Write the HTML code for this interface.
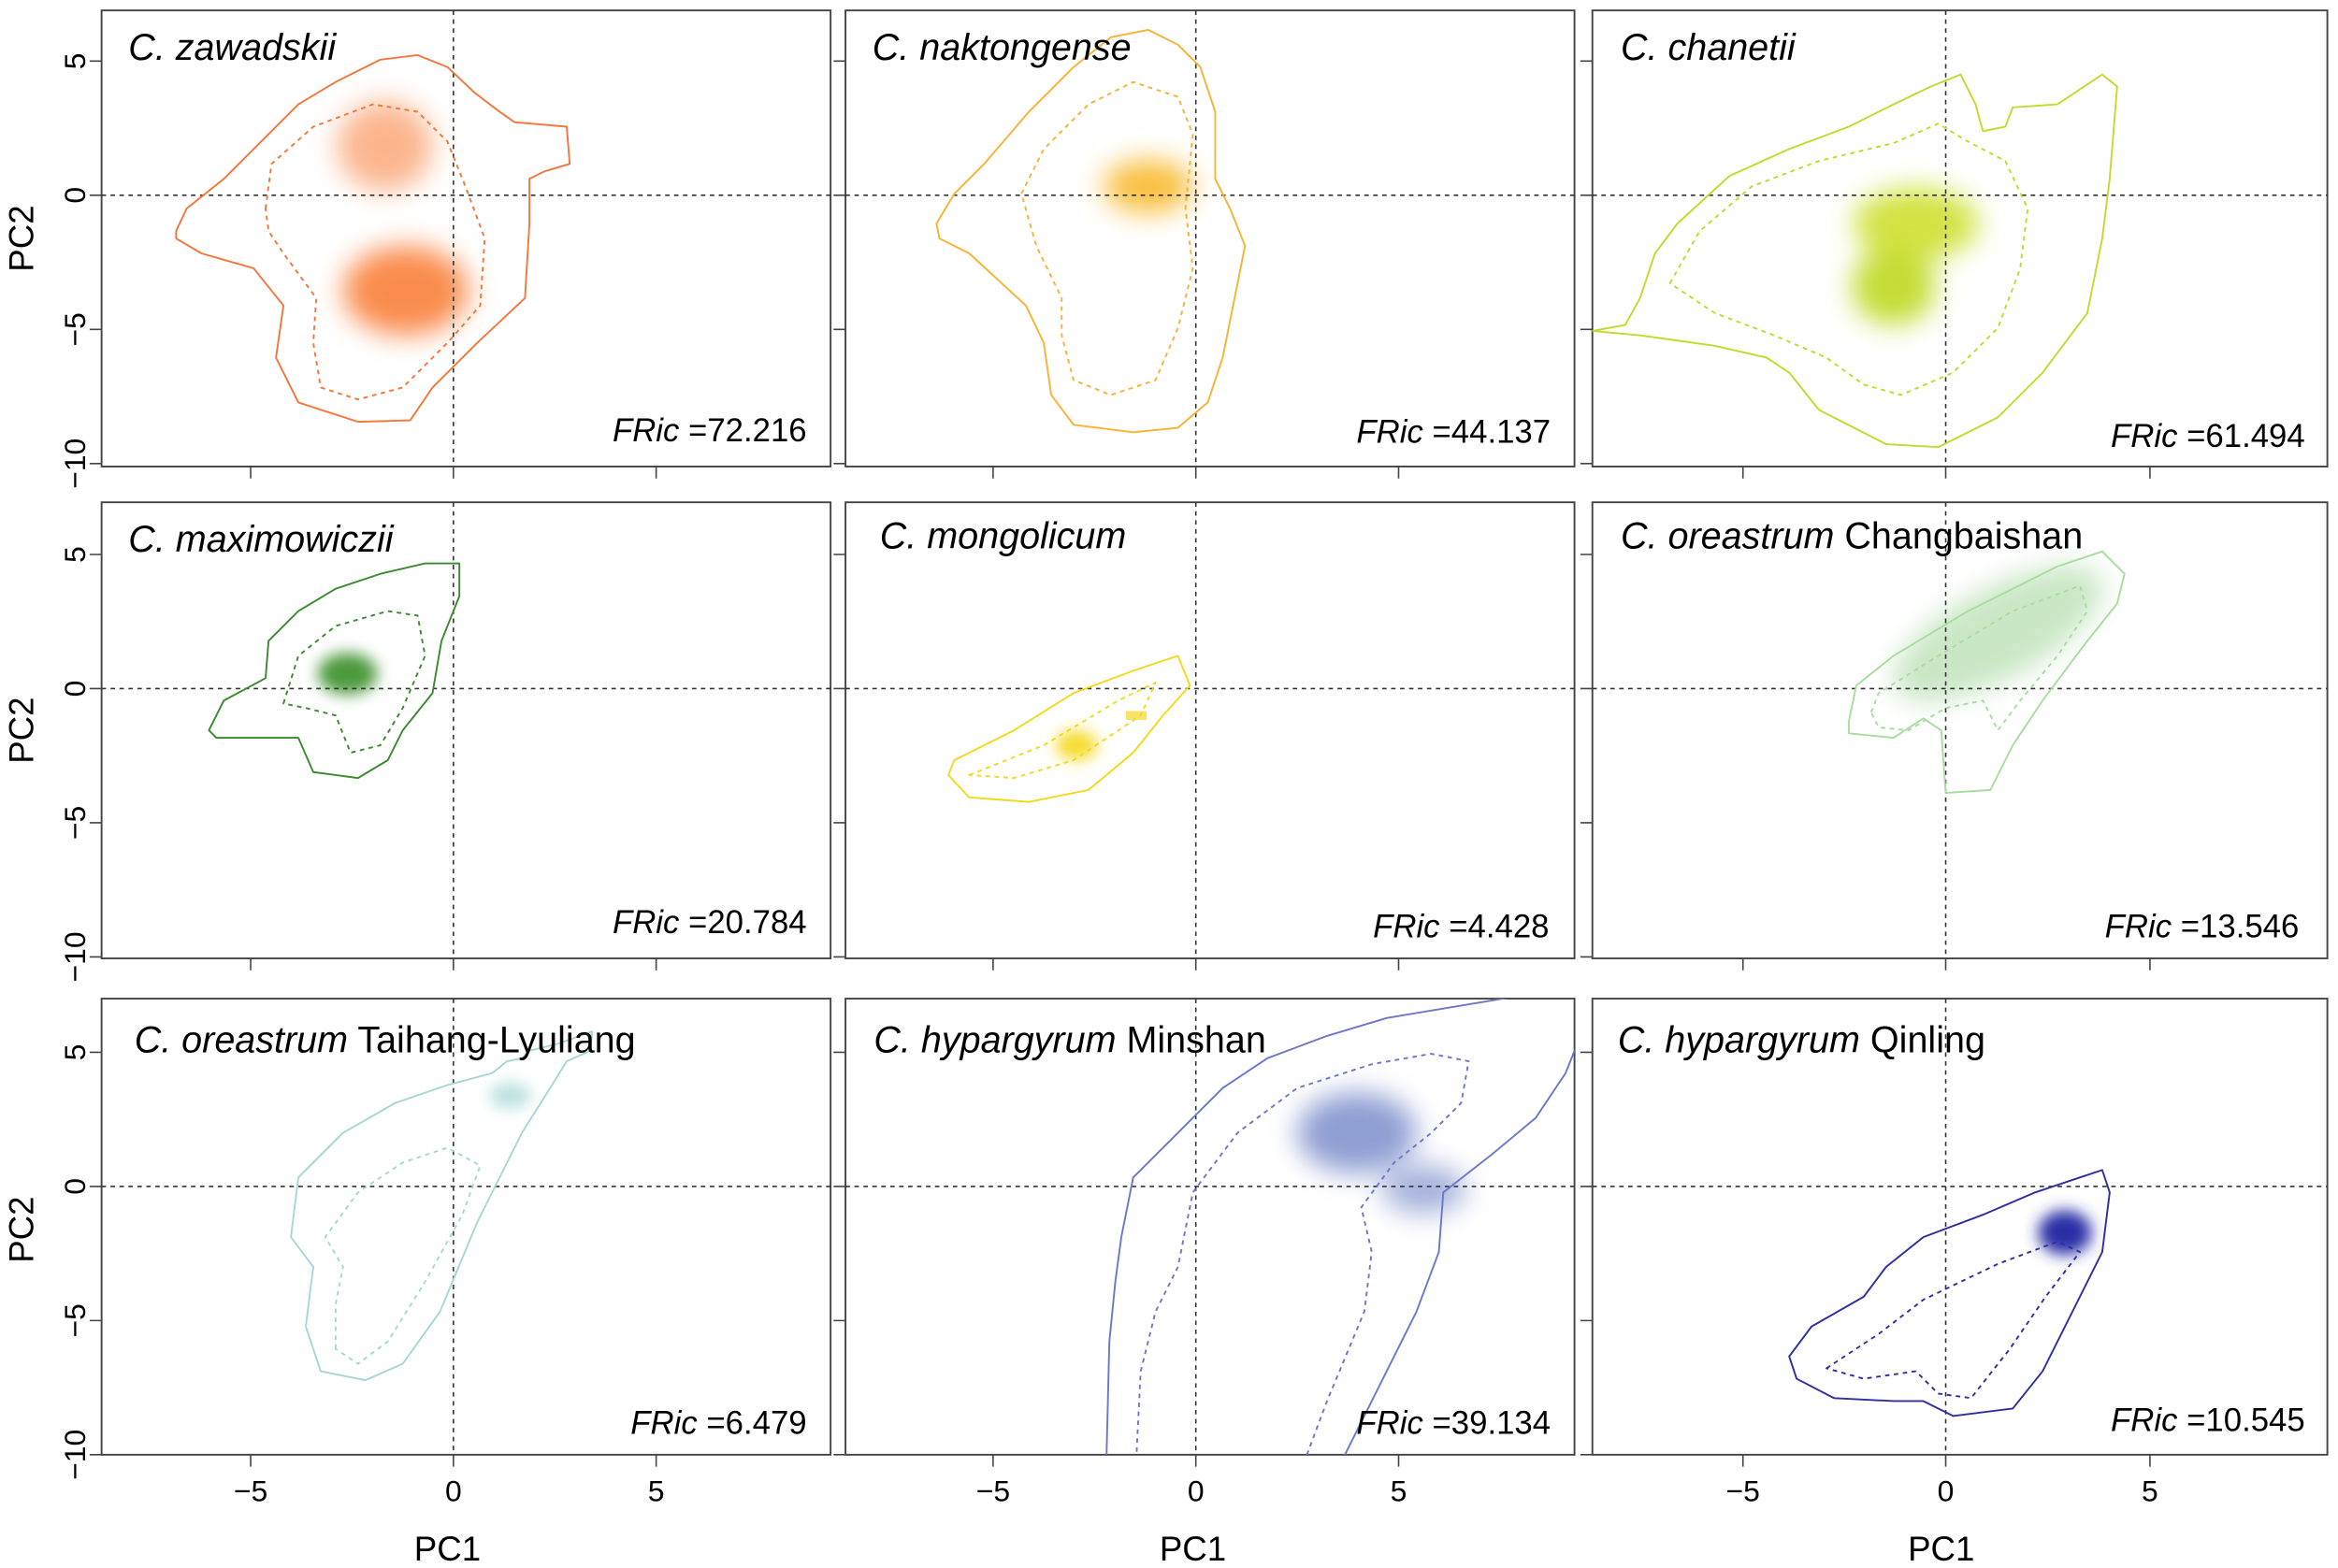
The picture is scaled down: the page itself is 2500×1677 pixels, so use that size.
<!DOCTYPE html>
<html><head><meta charset="utf-8"><style>
html,body{margin:0;padding:0;background:#fff}
svg{display:block}
text{font-family:"Liberation Sans",Arial,sans-serif;fill:#000}
</style></head><body>
<svg width="2500" height="1677" viewBox="0 0 1568 1052" xmlns="http://www.w3.org/2000/svg">
<defs>
<filter id="b" x="-50%" y="-50%" width="200%" height="200%"><feGaussianBlur stdDeviation="9"/></filter>
<filter id="bs" x="-50%" y="-50%" width="200%" height="200%"><feGaussianBlur stdDeviation="5"/></filter>
<clipPath id="c8"><rect x="567" y="670" width="489" height="306"/></clipPath>
<clipPath id="c3"><rect x="1068" y="7" width="493" height="306"/></clipPath>
</defs>
<g fill="none" stroke="#444" stroke-width="1.2">
<rect x="68" y="7" width="489" height="306"/><rect x="567" y="7" width="489" height="306"/><rect x="1068" y="7" width="493" height="306"/>
<rect x="68" y="337" width="489" height="306"/><rect x="567" y="337" width="489" height="306"/><rect x="1068" y="337" width="493" height="306"/>
<rect x="68" y="670" width="489" height="306"/><rect x="567" y="670" width="489" height="306"/><rect x="1068" y="670" width="493" height="306"/>
</g>
<g stroke="#444" stroke-width="1">
<path d="M60 41H68M60 131H68M60 221H68M60 311H68 M559 41H567M559 131H567M559 221H567M559 311H567 M1060 41H1068M1060 131H1068M1060 221H1068M1060 311H1068"/>
<path d="M60 372H68M60 462H68M60 552H68M60 642H68 M559 372H567M559 462H567M559 552H567M559 642H567 M1060 372H1068M1060 462H1068M1060 552H1068M1060 642H1068"/>
<path d="M60 706H68M60 796H68M60 886H68M60 976H68 M559 706H567M559 796H567M559 886H567M559 976H567 M1060 706H1068M1060 796H1068M1060 886H1068M1060 976H1068"/>
<path d="M168 313V321M304 313V321M440 313V321 M666 313V321M802 313V321M938 313V321 M1169 313V321M1305 313V321M1442 313V321"/>
<path d="M168 643V651M304 643V651M440 643V651 M666 643V651M802 643V651M938 643V651 M1169 643V651M1305 643V651M1442 643V651"/>
<path d="M168 976V984M304 976V984M440 976V984 M666 976V984M802 976V984M938 976V984 M1169 976V984M1305 976V984M1442 976V984"/>
</g>
<g filter="url(#b)">
<ellipse cx="258" cy="98" rx="32" ry="30" fill="#FBB58E"/>
<ellipse cx="272" cy="195" rx="42" ry="30" fill="#F98C4E"/>
<ellipse cx="770" cy="125" rx="30" ry="18" fill="#F9C040"/>
<ellipse cx="1285" cy="150" rx="42" ry="24" fill="#D2E343"/>
<ellipse cx="1270" cy="192" rx="28" ry="26" fill="#C6DC35"/>
<ellipse cx="910" cy="760" rx="40" ry="27" fill="#8F9ED3"/>
<ellipse cx="955" cy="798" rx="28" ry="16" fill="#A4B0DB"/>
<ellipse cx="1340" cy="425" rx="78" ry="30" transform="rotate(-28 1340 425)" fill="#C9E6C5"/>
</g>
<g filter="url(#bs)">
<ellipse cx="233" cy="452" rx="20" ry="14" fill="#4E9A3E"/>
<ellipse cx="722" cy="500" rx="14" ry="10" fill="#F5DC2A"/>
<ellipse cx="342" cy="735" rx="14" ry="9" fill="#BDE1E1"/>
<ellipse cx="1385" cy="827" rx="18" ry="15" fill="#2C2FA6"/>
</g>
<rect x="755" y="477" width="14" height="6" fill="#F7E36A"/>
<g stroke="#333" stroke-width="1" stroke-dasharray="3,3">
<path d="M68 131H557M567 131H1056M1068 131H1561M68 462H557M567 462H1056M1068 462H1561M68 796H557M567 796H1056M1068 796H1561"/>
<path d="M304 7V313M802 7V313M1305 7V313M304 337V643M802 337V643M1305 337V643M304 670V976M802 670V976M1305 670V976"/>
</g>
<g fill="none" stroke-width="1.2" stroke-linejoin="round">
<path stroke="#F4763A" d="M118 155L125 140L150 120L175 95L200 70L225 55L255 40L280 37L300 45L318 62L335 75L345 82L380 85L382 110L365 115L355 120L355 150L352 200L320 230L290 260L275 282L240 283L200 270L185 240L190 205L170 180L135 170L118 160Z"/>
<path stroke="#F4763A" stroke-dasharray="3,3" d="M178 140L182 110L210 85L250 70L280 75L300 95L312 125L325 160L322 205L300 230L270 260L240 268L215 260L210 230L212 200L190 170L180 155Z"/>
<path stroke="#F9B233" d="M628 150L640 130L660 110L690 75L720 45L745 25L770 20L790 30L805 45L815 75L815 120L825 140L835 165L828 200L820 240L810 270L790 287L760 290L720 285L705 265L700 230L688 205L650 170L630 160Z"/>
<path stroke="#F9B233" stroke-dasharray="3,3" d="M685 130L700 100L730 70L760 55L790 65L800 90L795 140L800 180L790 220L775 255L745 265L720 255L712 225L712 200L695 165Z"/>
<g clip-path="url(#c3)">
<path stroke="#C5D82C" d="M1068 222L1090 218L1100 200L1110 170L1125 150L1160 118L1200 100L1240 85L1270 70L1295 58L1315 50L1325 70L1330 88L1345 85L1350 72L1380 70L1410 50L1420 58L1415 120L1410 160L1400 210L1370 250L1340 280L1300 300L1265 298L1220 275L1200 250L1185 240L1150 232L1100 225Z"/>
</g>
<path stroke="#C5D82C" stroke-dasharray="3,3" d="M1120 190L1140 155L1175 125L1220 108L1270 96L1300 83L1320 95L1345 108L1360 140L1355 180L1340 220L1310 250L1275 265L1250 258L1225 240L1190 225L1150 210Z"/>
<path stroke="#3A8A2E" d="M140 490L150 470L178 455L180 430L200 410L225 395L255 385L285 378L308 378L308 400L296 430L290 465L270 490L260 510L240 522L210 518L200 495L170 495L145 495Z"/>
<path stroke="#3A8A2E" stroke-dasharray="3,3" d="M190 472L200 440L225 420L260 410L280 413L285 440L270 475L255 500L235 505L225 480L205 475Z"/>
<path stroke="#F2D91A" d="M636 520L640 510L680 490L720 465L760 450L790 440L798 460L780 480L760 505L730 530L690 538L650 535Z"/>
<path stroke="#F2D91A" stroke-dasharray="3,3" d="M650 520L700 500L750 470L775 458L765 480L720 510L680 522Z"/>
<path stroke="#A8DCA0" d="M1240 484L1245 460L1270 440L1320 410L1380 380L1410 370L1425 385L1420 405L1400 430L1370 470L1350 500L1335 530L1305 532L1302 490L1290 482L1270 495L1240 492Z"/>
<path stroke="#A8DCA0" stroke-dasharray="3,3" d="M1255 478L1260 465L1300 440L1350 410L1395 393L1400 410L1380 440L1355 470L1340 490L1330 470L1305 475L1280 490L1260 488Z"/>
<path stroke="#A6D6D6" d="M205 890L210 850L195 830L200 790L230 760L265 740L300 728L330 720L340 712L350 710L355 705L375 700L397 692L396 705L380 712L372 725L350 760L320 820L295 880L270 915L245 926L215 920Z"/>
<path stroke="#A6D6D6" stroke-dasharray="3,3" d="M225 905L225 875L230 850L218 830L240 800L270 780L300 770L322 782L310 815L285 860L260 900L240 915Z"/>
<g clip-path="url(#c8)">
<path stroke="#6B77CA" d="M742 980L744 900L748 860L752 830L760 790L790 760L820 730L850 710L890 695L930 683L990 673L1020 668"/>
<path stroke="#6B77CA" d="M1058 700L1050 720L1030 750L1000 775L968 800L965 840L950 880L930 920L910 960L900 980"/>
<path stroke="#6B77CA" stroke-dasharray="3,3" d="M762 980L765 920L775 880L790 850L800 800L830 760L870 730L920 714L960 707L985 712L980 740L960 760L935 780L913 810L920 840L915 880L890 940L875 980"/>
</g>
<path stroke="#2E2EA0" d="M1200 910L1215 890L1250 870L1265 850L1290 830L1330 815L1365 800L1395 790L1410 785L1415 800L1410 840L1390 880L1370 920L1350 945L1310 950L1290 940L1270 940L1230 938L1205 925Z"/>
<path stroke="#2E2EA0" stroke-dasharray="3,3" d="M1225 918L1260 895L1290 872L1340 848L1380 833L1395 840L1372 870L1348 905L1322 938L1300 935L1285 920L1250 925Z"/>
</g>
<g font-size="24.8">
<text x="86" y="40" font-style="italic">C. zawadskii</text>
<text x="585" y="40" font-style="italic">C. naktongense</text>
<text x="1087" y="40" font-style="italic">C. chanetii</text>
<text x="86" y="370" font-style="italic">C. maximowiczii</text>
<text x="590" y="368" font-style="italic">C. mongolicum</text>
<text x="1087" y="368"><tspan font-style="italic">C. oreastrum</tspan> Changbaishan</text>
<text x="90" y="706"><tspan font-style="italic">C. oreastrum</tspan> Taihang-Lyuliang</text>
<text x="586" y="706"><tspan font-style="italic">C. hypargyrum</tspan> Minshan</text>
<text x="1085" y="706"><tspan font-style="italic">C. hypargyrum</tspan> Qinling</text>
</g>
<g font-size="21.8" text-anchor="end">
<text x="541" y="296"><tspan font-style="italic">FRic</tspan> =72.216</text>
<text x="1040" y="297"><tspan font-style="italic">FRic</tspan> =44.137</text>
<text x="1546" y="300"><tspan font-style="italic">FRic</tspan> =61.494</text>
<text x="541" y="626"><tspan font-style="italic">FRic</tspan> =20.784</text>
<text x="1039" y="629"><tspan font-style="italic">FRic</tspan> =4.428</text>
<text x="1542" y="629"><tspan font-style="italic">FRic</tspan> =13.546</text>
<text x="541" y="962"><tspan font-style="italic">FRic</tspan> =6.479</text>
<text x="1040" y="962"><tspan font-style="italic">FRic</tspan> =39.134</text>
<text x="1546" y="960"><tspan font-style="italic">FRic</tspan> =10.545</text>
</g>
<g font-size="20" text-anchor="middle">
<text transform="translate(57 41) rotate(-90)">5</text>
<text transform="translate(57 131) rotate(-90)">0</text>
<text transform="translate(57 221) rotate(-90)">−5</text>
<text transform="translate(57 311) rotate(-90)">−10</text>
<text transform="translate(57 372) rotate(-90)">5</text>
<text transform="translate(57 462) rotate(-90)">0</text>
<text transform="translate(57 552) rotate(-90)">−5</text>
<text transform="translate(57 642) rotate(-90)">−10</text>
<text transform="translate(57 706) rotate(-90)">5</text>
<text transform="translate(57 796) rotate(-90)">0</text>
<text transform="translate(57 886) rotate(-90)">−5</text>
<text transform="translate(57 976) rotate(-90)">−10</text>
<text x="168" y="1007">−5</text><text x="304" y="1007">0</text><text x="440" y="1007">5</text>
<text x="666" y="1007">−5</text><text x="802" y="1007">0</text><text x="938" y="1007">5</text>
<text x="1169" y="1007">−5</text><text x="1305" y="1007">0</text><text x="1442" y="1007">5</text>
</g>
<g font-size="23" text-anchor="middle">
<text transform="translate(22 160) rotate(-90)">PC2</text>
<text transform="translate(22 490) rotate(-90)">PC2</text>
<text transform="translate(22 825) rotate(-90)">PC2</text>
<text x="300" y="1047">PC1</text><text x="800" y="1047">PC1</text><text x="1302" y="1047">PC1</text>
</g>
</svg>
</body></html>
